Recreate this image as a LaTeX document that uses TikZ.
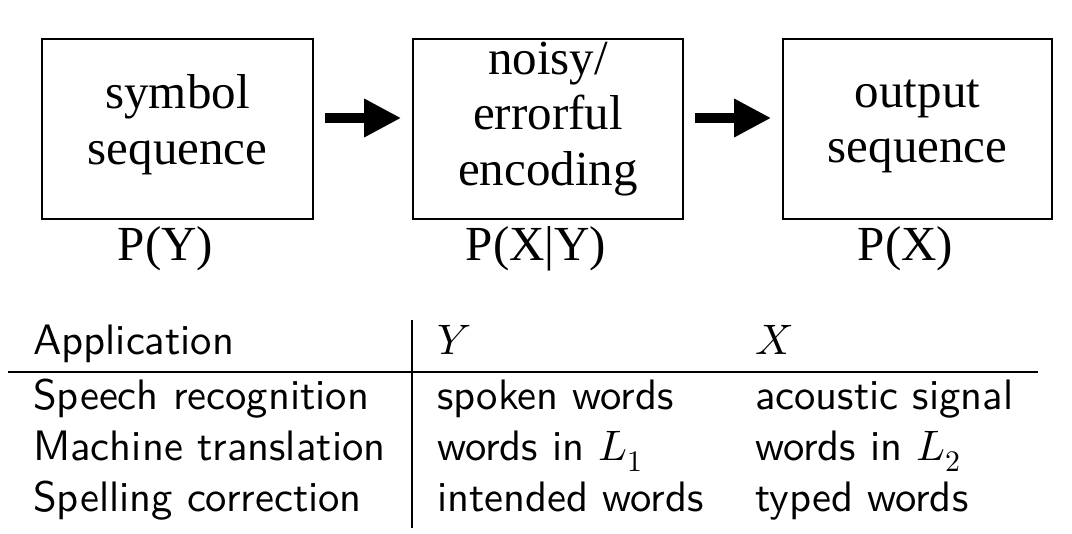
\documentclass[tikz,border=0pt]{standalone}
\usepackage{fontspec}
\usepackage{unicode-math}
\setmainfont{Liberation Serif}
\setmathfont{Latin Modern Math}
\newfontfamily\tabfont{lmsans10-regular.otf}
\usetikzlibrary{arrows.meta}
\begin{document}
\begin{tikzpicture}[x=1pt,y=-1pt,
  box/.style={draw, line width=1.6pt, inner sep=0pt},
  boxtext/.style={font=\fontsize{49}{55.5}\selectfont, align=center, inner sep=0pt},
  prob/.style={font=\fontsize{49}{55}\selectfont, inner sep=0pt, anchor=base},
  flow/.style={line width=10pt, -{Triangle[length=37pt,width=36pt]}},
  cell/.style={font=\tabfont\fontsize{42.6}{51}\selectfont, inner sep=0pt, anchor=base west},
  rule/.style={line width=1.6pt}]
\useasboundingbox (0,0) rectangle (1072,534);
% boxes
\node[box, minimum width=271pt, minimum height=180pt] (b1) at (177.5,129) {};
\node[box, minimum width=270pt, minimum height=180pt] (b2) at (548,129) {};
\node[box, minimum width=269pt, minimum height=180pt] (b3) at (917.5,129) {};
\node[boxtext] (t1) at (177.5,124.5) {symbol\\sequence};
\node[boxtext] (t2) at (548,119) {noisy/\\errorful\\encoding};
\node[boxtext] (t3) at (917.5,126.5) {output\\sequence};
% arrows
\draw[flow] ([xshift=11pt,yshift=11pt]b1.east) -- ([xshift=-11pt,yshift=11pt]b2.west);
\draw[flow] ([xshift=11pt,yshift=11pt]b2.east) -- ([xshift=-11pt,yshift=11pt]b3.west);
% probabilities
\node[prob] (p1) at (165.5,261) {P(Y)};
\node[prob] (p2) at (536,261) {P(X|Y)};
\node[prob] (p3) at (905.5,261) {P(X)};
% table rules
\coordinate (hl) at (8,372);
\coordinate (hr) at (1038,372);
\coordinate (vt) at (411.7,320);
\coordinate (vb) at (411.7,528);
\draw[rule] (hl) -- (hr);
\draw[rule] (vt) -- (vb);
% table cells
\node[cell] (a0) at (33,355) {Application};
\node[cell] (y0) at (437,355) {$Y$};
\node[cell] (x0) at (755,355) {$X$};
\node[cell] (a1) at (33,410) {Speech recognition};
\node[cell] (y1) at (437,410) {spoken words};
\node[cell] (x1) at (755,410) {acoustic signal};
\node[cell] (a2) at (33,461) {Machine translation};
\node[cell] (y2) at (437,461) {words in $L_1$};
\node[cell] (x2) at (755,461) {words in $L_2$};
\node[cell] (a3) at (33,512) {Spelling correction};
\node[cell] (y3) at (437,512) {intended words};
\node[cell] (x3) at (755,512) {typed words};
\end{tikzpicture}
\end{document}
